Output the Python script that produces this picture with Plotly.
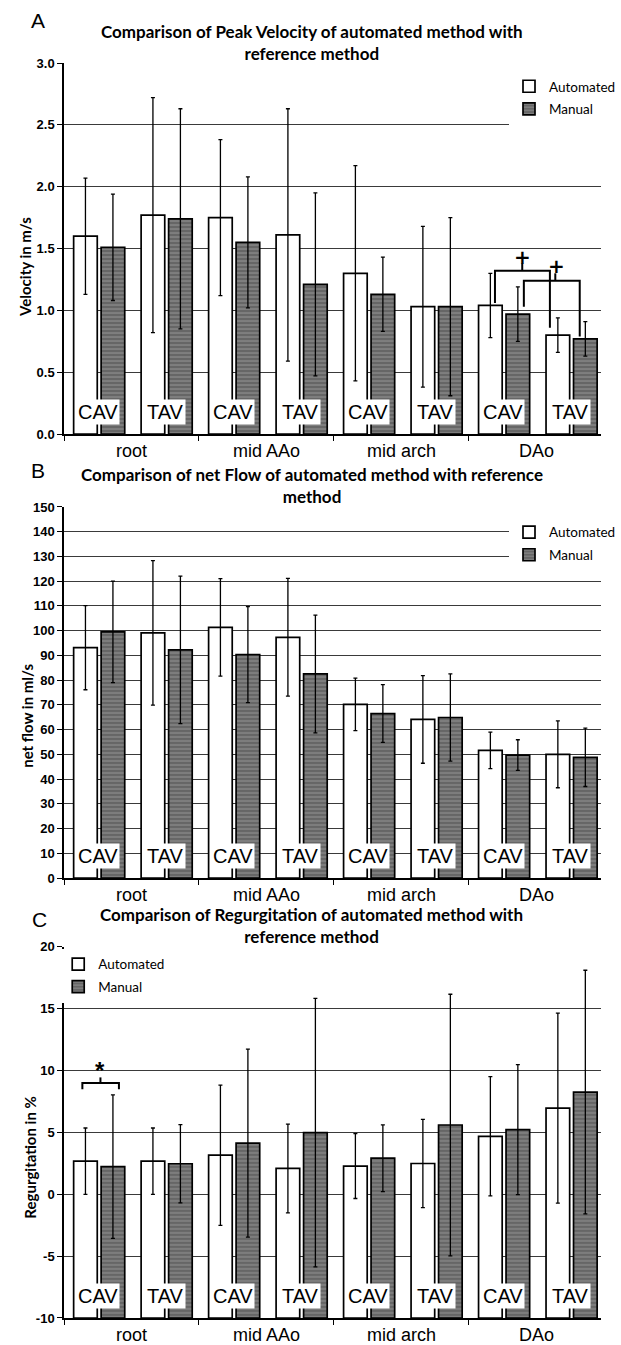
import plotly.graph_objects as go

# ---------------- data ----------------
categories = ["root", "mid AAo", "mid arch", "DAo"]
subgroups = ["CAV", "TAV"]
series_names = ["Automated", "Manual"]

# Panel A: peak velocity (m/s)
vel_auto_cav = [1.60, 1.75, 1.30, 1.04]
vel_auto_cav_sd = [0.47, 0.63, 0.87, 0.26]
vel_man_cav = [1.51, 1.55, 1.13, 0.97]
vel_man_cav_sd = [0.43, 0.53, 0.30, 0.22]
vel_auto_tav = [1.77, 1.61, 1.03, 0.80]
vel_auto_tav_sd = [0.95, 1.02, 0.65, 0.14]
vel_man_tav = [1.74, 1.21, 1.03, 0.77]
vel_man_tav_sd = [0.89, 0.74, 0.72, 0.14]

# Panel B: net flow (ml/s)
flow_auto_cav = [93.1, 101.3, 70.2, 51.6]
flow_auto_cav_sd = [17.0, 19.7, 10.6, 7.4]
flow_man_cav = [99.5, 90.3, 66.5, 49.7]
flow_man_cav_sd = [20.5, 19.4, 11.7, 6.2]
flow_auto_tav = [99.1, 97.3, 64.1, 50.0]
flow_auto_tav_sd = [29.2, 23.8, 17.7, 13.5]
flow_man_tav = [92.2, 82.5, 64.9, 48.8]
flow_man_tav_sd = [29.8, 23.8, 17.6, 11.8]

# Panel C: regurgitation (%)
reg_auto_cav = [2.68, 3.16, 2.28, 4.69]
reg_auto_cav_sd = [2.68, 5.67, 2.62, 4.82]
reg_man_cav = [2.23, 4.13, 2.92, 5.23]
reg_man_cav_sd = [5.80, 7.60, 2.70, 5.25]
reg_auto_tav = [2.68, 2.09, 2.49, 6.97]
reg_auto_tav_sd = [2.68, 3.59, 3.57, 7.68]
reg_man_tav = [2.47, 4.99, 5.60, 8.26]
reg_man_tav_sd = [3.16, 10.85, 10.57, 9.85]

titles = [
    "Comparison of Peak Velocity of automated method with<br>reference method",
    "Comparison of net Flow of automated method with reference<br>method",
    "Comparison of Regurgitation of automated method with<br>reference method",
]
y_titles = ["Velocity in m/s", "net flow in ml/s", "Regurgitation in %"]
panel_letters = ["A", "B", "C"]

vel_ticks = [0.0, 0.5, 1.0, 1.5, 2.0, 2.5, 3.0]
vel_ticktext = ["0.0", "0.5", "1.0", "1.5", "2.0", "2.5", "3.0"]
flow_ticks = list(range(0, 151, 10))
flow_ticktext = [str(v) for v in flow_ticks]
reg_ticks = [-10, -5, 0, 5, 10, 15, 20]
reg_ticktext = ["-10", "-5", "0", "5", "10", "15", "20"]

# ---------------- layout helpers ----------------
W, H = 621, 1345
ML, MR, MT, MB = 64, 0, 63, 24
PW = W - ML - MR
PH = H - MT - MB


def px_x(px):
    return (px - ML) / PW


def px_y(py):
    return (H - MB - py) / PH


domains = [
    [px_y(435), 1.0],
    [px_y(880), px_y(508)],
    [0.0, px_y(949)],
]

# bar geometry in category units (one category = 140 px)
OFF = {"CAV_A": -0.4286, "CAV_M": -0.225, "TAV_A": 0.0714, "TAV_M": 0.275}
BW = 0.175

WHITE_BAR = dict(color="white", line=dict(color="black", width=1.7))
GRAY_BAR = dict(
    color="#6c6c6c",
    line=dict(color="black", width=1.7),
    pattern=dict(shape="-", fgcolor="#b4b4b4", bgcolor="#666666", size=4, solidity=0.3),
)

fig = go.Figure()

panels = [
    (vel_auto_cav, vel_auto_cav_sd, vel_man_cav, vel_man_cav_sd,
     vel_auto_tav, vel_auto_tav_sd, vel_man_tav, vel_man_tav_sd, None),
    (flow_auto_cav, flow_auto_cav_sd, flow_man_cav, flow_man_cav_sd,
     flow_auto_tav, flow_auto_tav_sd, flow_man_tav, flow_man_tav_sd, None),
    (reg_auto_cav, reg_auto_cav_sd, reg_man_cav, reg_man_cav_sd,
     reg_auto_tav, reg_auto_tav_sd, reg_man_tav, reg_man_tav_sd, -10),
]

for p, (ac, acs, mc, mcs, at, ats, mt, mts, base) in enumerate(panels):
    xa = "x" if p == 0 else f"x{p + 1}"
    ya = "y" if p == 0 else f"y{p + 1}"
    leg = "legend" if p == 0 else f"legend{p + 1}"
    specs = [
        (ac, acs, "CAV_A", WHITE_BAR, series_names[0], True),
        (mc, mcs, "CAV_M", GRAY_BAR, series_names[1], True),
        (at, ats, "TAV_A", WHITE_BAR, series_names[0], False),
        (mt, mts, "TAV_M", GRAY_BAR, series_names[1], False),
    ]
    for vals, sds, key, mk, name, show in specs:
        if base is None:
            yv = vals
        else:
            yv = [v - base for v in vals]
        fig.add_trace(go.Bar(
            x=categories, y=yv, base=base, name=name,
            offset=OFF[key], width=BW, marker=mk,
            error_y=dict(type="data", array=sds, symmetric=True,
                         color="black", thickness=1.3, width=2),
            xaxis=xa, yaxis=ya, legend=leg, legendgroup=f"{leg}_{name}",
            showlegend=show,
        ))

tick_font = dict(family="Liberation Sans, Arial", size=13, color="black", weight="bold")
cat_font = dict(family="Liberation Sans, Arial", size=18, color="black")
ytick_sets = [(vel_ticks, vel_ticktext, [0, 3]),
              (flow_ticks, flow_ticktext, [0, 150]),
              (reg_ticks, reg_ticktext, [-10, 20])]

layout = dict(
    width=W, height=H,
    margin=dict(l=ML, r=MR, t=MT, b=MB),
    paper_bgcolor="white", plot_bgcolor="white",
    barmode="overlay",
    font=dict(family="Lato, Liberation Sans", color="black"),
)

for p in range(3):
    xs = "xaxis" if p == 0 else f"xaxis{p + 1}"
    ys = "yaxis" if p == 0 else f"yaxis{p + 1}"
    ya = "y" if p == 0 else f"y{p + 1}"
    xa = "x" if p == 0 else f"x{p + 1}"
    tv, tt, rng = ytick_sets[p]
    layout[xs] = dict(
        domain=[0, 1], anchor=ya, type="category",
        categoryorder="array", categoryarray=categories,
        range=[-0.5, 3.5 - 3 / 140],
        tickson="boundaries", ticks="outside", ticklen=5, tickwidth=1,
        tickcolor="black", showline=True, linecolor="black", linewidth=1.5,
        showgrid=False, tickfont=cat_font, fixedrange=True,
    )
    layout[ys] = dict(
        domain=domains[p], anchor=xa, range=rng,
        tickmode="array", tickvals=tv, ticktext=tt,
        ticks="outside", ticklen=5, tickwidth=1, tickcolor="black",
        showline=True, linecolor="black", linewidth=1.5,
        showgrid=True, gridcolor="#3a3a3a", gridwidth=1, zeroline=False,
        tickfont=tick_font, fixedrange=True,
    )

legend_common = dict(
    bgcolor="white", borderwidth=0, font=dict(family="Lato", size=13.5, color="black"),
    xanchor="left", yanchor="top", traceorder="grouped", tracegroupgap=2,
)
layout["legend"] = dict(legend_common, x=px_x(526), y=px_y(71))
layout["legend2"] = dict(legend_common, x=px_x(526), y=px_y(518))
layout["legend3"] = dict(legend_common, x=px_x(58), y=px_y(951))

annotations = []
title_centers = [42, 486.5, 928]
letter_pos = [(37, 20), (37.5, 471), (39, 922)]
ytitle_pos = [(23, 267), (26, 717), (29, 1160)]
for p in range(3):
    annotations.append(dict(
        text=f"<b>{titles[p]}</b>", xref="paper", yref="paper",
        x=px_x(321), y=px_y(title_centers[p]), xanchor="center", yanchor="middle",
        showarrow=False, font=dict(family="Lato", size=17, color="black"),
    ))
    annotations.append(dict(
        text=panel_letters[p], xref="paper", yref="paper",
        x=px_x(letter_pos[p][0]), y=px_y(letter_pos[p][1]),
        xanchor="center", yanchor="middle", showarrow=False,
        font=dict(family="Liberation Sans, Arial", size=21, color="black"),
    ))
    annotations.append(dict(
        text=f"<b>{y_titles[p]}</b>", xref="paper", yref="paper",
        x=px_x(ytitle_pos[p][0]), y=px_y(ytitle_pos[p][1]),
        xanchor="center", yanchor="middle", textangle=-90, showarrow=False,
        font=dict(family="Lato", size=15, color="black"),
    ))
    xa = "x" if p == 0 else f"x{p + 1}"
    ya = "y" if p == 0 else f"y{p + 1}"
    for i, _ in enumerate(categories):
        for j, sg in enumerate(subgroups):
            annotations.append(dict(
                text=sg, xref=xa, yref=f"{ya} domain",
                x=i - 0.25 + 0.5 * j, y=0.059, xanchor="center", yanchor="middle",
                showarrow=False, bgcolor="white", borderpad=1,
                font=dict(family="Liberation Sans, Arial", size=20, color="black"),
            ))

# significance markers
annotations.append(dict(text="<b>+</b>", xref="x", yref="y", x=3 - 0.105, y=1.43,
                        showarrow=False, font=dict(family="DejaVu Sans", size=20, color="black")))
annotations.append(dict(text="<b>+</b>", xref="x", yref="y", x=3 + 0.15, y=1.36,
                        showarrow=False, font=dict(family="DejaVu Sans", size=20, color="black")))
annotations.append(dict(text="<b>*</b>", xref="x3", yref="y3", x=-0.23, y=10.0,
                        showarrow=False, font=dict(family="Liberation Sans", size=24, color="black")))
layout["annotations"] = annotations

shapes = []
bl = dict(color="black", width=2)
shapes.append(dict(type="path", xref="x", yref="y", line=bl,
                   path=f"M {3 - 0.307},1.06 L {3 - 0.307},1.32 L {3 + 0.10},1.32 L {3 + 0.10},0.86"))
shapes.append(dict(type="line", xref="x", yref="y", line=bl, x0=3 - 0.105, x1=3 - 0.105, y0=1.32, y1=1.38))
shapes.append(dict(type="path", xref="x", yref="y", line=bl,
                   path=f"M {3 - 0.093},1.03 L {3 - 0.093},1.24 L {3 + 0.321},1.24 L {3 + 0.321},0.79"))
shapes.append(dict(type="line", xref="x", yref="y", line=bl, x0=3 + 0.14, x1=3 + 0.14, y0=1.24, y1=1.30))
shapes.append(dict(type="path", xref="x3", yref="y3", line=bl,
                   path="M -0.364,8.5 L -0.364,9.0 L -0.093,9.0 L -0.093,8.5"))
shapes.append(dict(type="line", xref="x3", yref="y3", line=bl, x0=-0.23, x1=-0.23, y0=9.0, y1=9.45))
layout["shapes"] = shapes

fig.update_layout(**layout)
fig.write_html(
    "out.html",
    config={"displayModeBar": False},
    post_script="document.body.style.margin='0px';document.body.style.overflow='hidden';",
)
